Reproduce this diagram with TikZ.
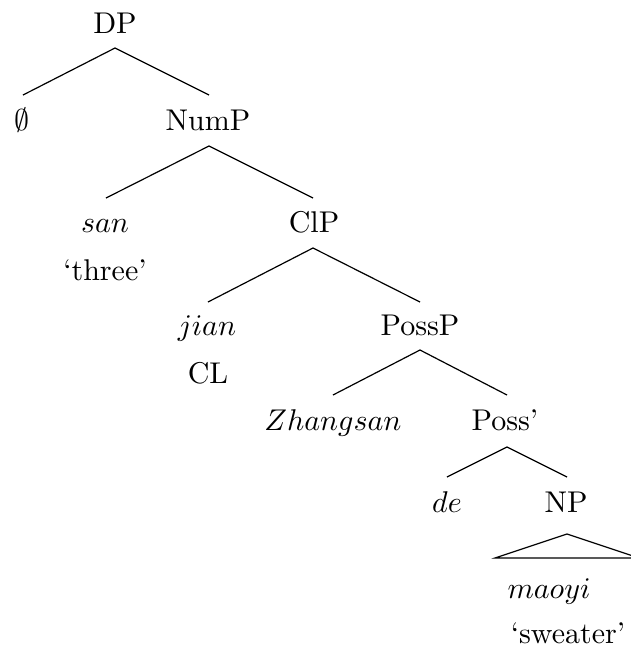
\documentclass[tikz,border=0pt]{standalone}
\begin{document}
\begin{tikzpicture}[x=0.33333pt,y=-0.33333pt,
  lab/.style={anchor=base,inner sep=0pt,outer sep=0pt},
  branch/.style={line width=0.4pt}]
\useasboundingbox (0,0) rectangle (631,651);
% nodes
\node[lab] (dp) at (115,33) {DP};
\node[lab] (empty) at (22,130) {$\emptyset$};
\node[lab] (nump) at (208,130) {NumP};
\node[lab] (san) at (105,232) {$san$};
\node[lab] (three) at (105,280) {`three'};
\node[lab] (clp) at (314,232) {ClP};
\node[lab] (jian) at (207,335) {$jian$};
\node[lab] (cl) at (208,383) {CL};
\node[lab] (possp) at (420,335) {PossP};
\node[lab] (zhangsan) at (333,430) {$Zhangsan$};
\node[lab] (possbar) at (505,430) {Poss'};
\node[lab] (de) at (447,512) {$de$};
\node[lab] (np) at (566,512) {NP};
\node[lab] (maoyi) at (549,598) {$maoyi$};
\node[lab] (sweater) at (568,643) {`sweater'};
% branch points
\coordinate (dp-b) at (115,48);
\coordinate (empty-t) at (23,95);
\coordinate (nump-t) at (209,95);
\coordinate (nump-b) at (209,146);
\coordinate (san-t) at (106,198);
\coordinate (clp-t) at (313,198);
\coordinate (clp-b) at (313,248);
\coordinate (jian-t) at (208,302);
\coordinate (possp-t) at (420,302);
\coordinate (possp-b) at (420,350);
\coordinate (zhangsan-t) at (333,395);
\coordinate (possbar-t) at (507,395);
\coordinate (possbar-b) at (507,447);
\coordinate (de-t) at (447,477);
\coordinate (np-t) at (567,477);
\coordinate (np-b) at (567,534);
\coordinate (tri-l) at (495,558);
\coordinate (tri-r) at (639,558);
% branches
\draw[branch] (empty-t) -- (dp-b) -- (nump-t);
\draw[branch] (san-t) -- (nump-b) -- (clp-t);
\draw[branch] (jian-t) -- (clp-b) -- (possp-t);
\draw[branch] (zhangsan-t) -- (possp-b) -- (possbar-t);
\draw[branch] (de-t) -- (possbar-b) -- (np-t);
\draw[branch] (np-b) -- (tri-l) -- (tri-r) -- cycle;
\end{tikzpicture}
\end{document}
